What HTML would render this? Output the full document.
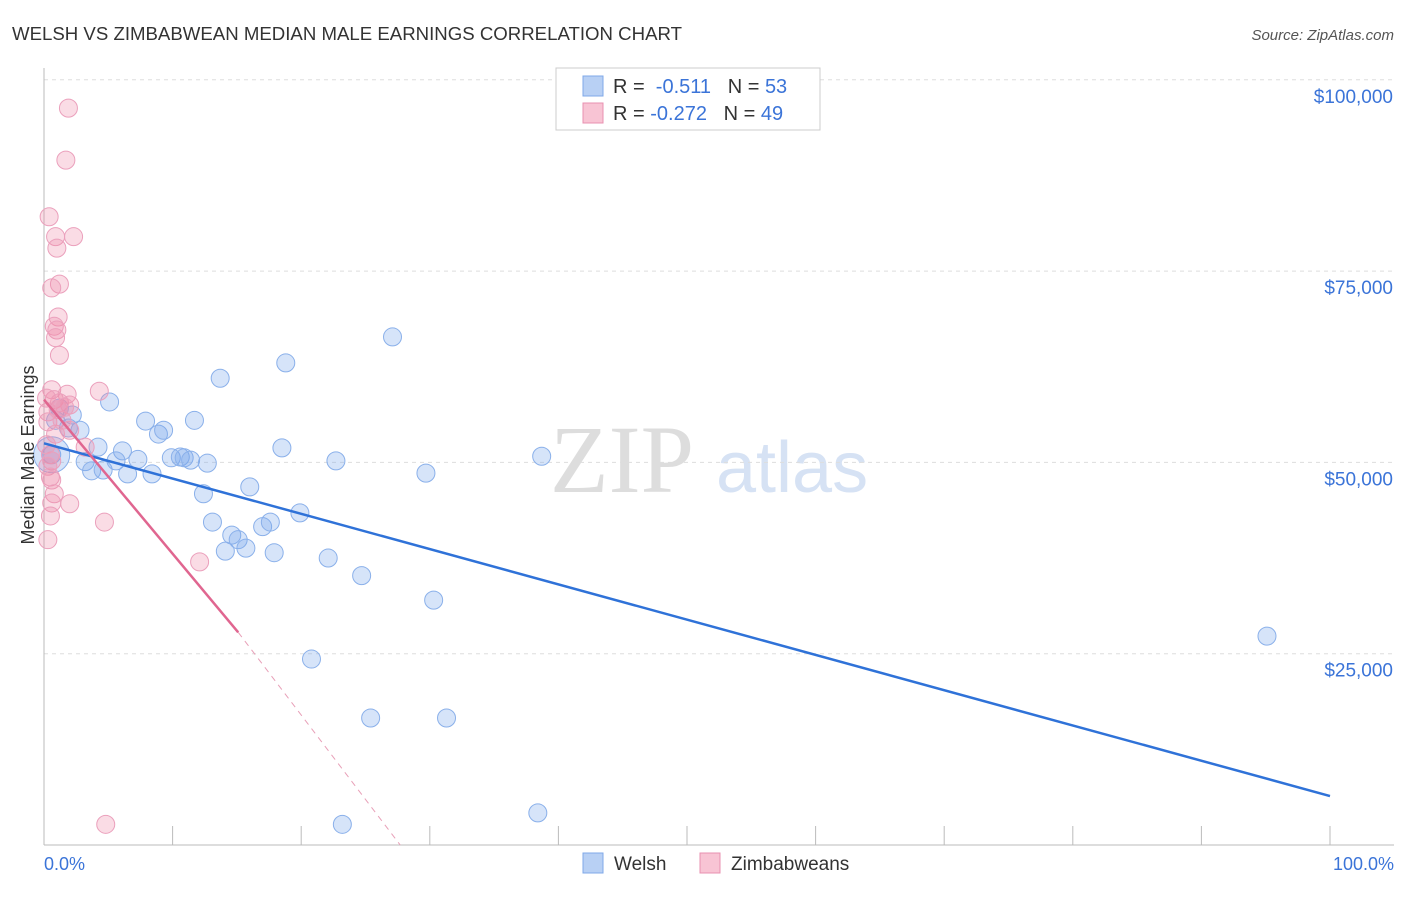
<!DOCTYPE html>
<html><head><meta charset="utf-8"><style>
body{margin:0;background:#fff;font-family:"Liberation Sans",sans-serif}
</style></head><body>
<svg width="1406" height="892" xmlns="http://www.w3.org/2000/svg" id="chart">
<text x="12" y="40" font-size="18" fill="#333" textLength="670" lengthAdjust="spacingAndGlyphs">WELSH VS ZIMBABWEAN MEDIAN MALE EARNINGS CORRELATION CHART</text>
<text x="1394" y="40" font-size="15" fill="#555" font-style="italic" text-anchor="end">Source: ZipAtlas.com</text>
<text x="550" y="492" font-size="96" fill="#ddd" font-family="Liberation Serif">ZIP</text>
<text x="716" y="492" font-size="72" fill="#d6e2f4">atlas</text>
<g id="grid"></g><g id="marks"></g>
<text transform="translate(34,455) rotate(-90)" font-size="18" fill="#333" text-anchor="middle">Median Male Earnings</text>
<text x="44" y="870" font-size="18" fill="#3b74d8">0.0%</text>
<text x="1394" y="870" font-size="18" fill="#3b74d8" text-anchor="end">100.0%</text>
<g>
<rect x="556" y="68" width="264" height="62" fill="#fff" stroke="#ccc"/>
<rect x="583" y="76" width="20" height="20" fill="#b8d0f4" stroke="#7fa8e8"/>
<rect x="583" y="103" width="20" height="20" fill="#f8c4d4" stroke="#e890b0"/>
<text x="613" y="93" font-size="20" fill="#333">R = <tspan fill="#3b74d8">&#160;-0.511</tspan>&#160;&#160;&#160;N = <tspan fill="#3b74d8">53</tspan></text>
<text x="613" y="120" font-size="20" fill="#333">R = <tspan fill="#3b74d8">-0.272</tspan>&#160;&#160;&#160;N = <tspan fill="#3b74d8">49</tspan></text>
</g>
<g>
<rect x="583" y="853" width="20" height="20" fill="#b8d0f4" stroke="#7fa8e8"/>
<text x="614" y="870" font-size="19" fill="#333">Welsh</text>
<rect x="700" y="853" width="20" height="20" fill="#f8c4d4" stroke="#e890b0"/>
<text x="731" y="870" font-size="19" fill="#333">Zimbabweans</text>
</g>
</svg>
<script>
const yTicks=[25000,50000,75000,100000];
const yTickLabels=["$25,000","$50,000","$75,000","$100,000"];
const xTicks=[0,10,20,30,40,50,60,70,80,90,100];
const welshX=[5.1,2.2,2.8,4.2,3.2,3.7,4.6,6.1,5.6,6.5,7.3,7.9,8.9,9.3,8.4,9.9,10.6,10.9,11.4,11.7,12.7,13.7,12.4,13.1,14.1,14.6,15.1,15.7,16.0,17.0,17.6,17.9,18.8,18.5,19.9,20.8,22.1,22.7,24.7,23.2,25.4,27.1,29.7,30.3,31.3,38.7,38.4,95.1,0.6,1.2,1.9,0.9];
const welshY=[57900,56200,54200,52000,50100,48900,49000,51500,50200,48500,50400,55400,53700,54200,48500,50600,50700,50600,50300,55500,49900,61000,45900,42200,38400,40500,39900,38800,46800,41600,42200,38200,63000,51900,43400,24300,37500,50200,35200,2700,16600,66400,48600,32000,16600,50800,4200,27300,51000,57100,54500,55500];
const zimX=[1.9,1.7,0.4,0.9,2.3,1.0,1.2,0.6,1.1,0.8,1.0,0.9,1.2,4.3,0.6,1.8,0.8,1.2,2.0,0.3,0.3,2.0,0.9,3.2,0.5,0.6,0.3,0.5,0.6,0.8,0.6,2.0,0.5,4.7,0.3,12.1,4.8,0.2,1.1,1.4,0.2,1.6];
const zimY=[96300,89500,82100,79500,79500,78000,73300,72800,69000,67800,67300,66300,64000,59300,59500,58900,58200,57800,57500,56600,55300,54200,53700,52000,51000,50200,49500,48100,47700,45900,44700,44600,43000,42200,39900,37000,2700,52300,56900,55500,58400,57200];
const welshLine=[0,52500,100,6400];
const zimLine=[0,58200,15.1,27800,27.7,0];
const X=v=>44+v*12.86, Y=v=>845-v*191.3/25000;
const NS="http://www.w3.org/2000/svg";
const g=document.getElementById('grid'), m=document.getElementById('marks');
function mk(p,tag,a){const e=document.createElementNS(NS,tag);for(const k in a)e.setAttribute(k,a[k]);p.appendChild(e);return e;}
yTicks.forEach((t,i)=>{
 const l=mk(g,'line',{x1:44,x2:1394,y1:Y(t),y2:Y(t),stroke:'#ddd','stroke-dasharray':'4,4'});
 
 
 const tx=mk(g,'text',{x:1393,y:Y(t)+23,'font-size':19,fill:'#3b74d8','text-anchor':'end'});tx.textContent=yTickLabels[i];
 
 
});
mk(g,'line',{x1:44,x2:44,y1:68,y2:845,stroke:'#bbb'});
mk(g,'line',{x1:44,x2:1394,y1:845,y2:845,stroke:'#bbb'});
xTicks.forEach(t=>{const l=mk(g,'line',{x1:X(t),x2:X(t),y1:826,y2:845,stroke:'#bbb'});
 
 });
welshX.forEach((x,i)=>{const c=mk(m,'circle',{cx:X(x),cy:Y(welshY[i]),r:9,fill:'rgba(120,165,235,0.3)',stroke:'#8ab0ea','stroke-width':1});
 
 });
mk(m,'circle',{cx:X(0.6),cy:Y(51000),r:18,fill:'rgba(120,165,235,0.3)',stroke:'#8ab0ea'});
zimX.forEach((x,i)=>{const c=mk(m,'circle',{cx:X(x),cy:Y(zimY[i]),r:9,fill:'rgba(240,140,170,0.3)',stroke:'#eba0bc','stroke-width':1});
 
 });
const bl=mk(m,'line',{x1:X(welshLine[0]),y1:Y(welshLine[1]),x2:X(welshLine[2]),y2:Y(welshLine[3]),stroke:'#2f72d8','stroke-width':2.5});


const pl=mk(m,'line',{x1:X(zimLine[0]),y1:Y(zimLine[1]),x2:X(zimLine[2]),y2:Y(zimLine[3]),stroke:'#e06690','stroke-width':2.5});


const pd=mk(m,'line',{x1:X(zimLine[2]),y1:Y(zimLine[3]),x2:X(zimLine[4]),y2:Y(zimLine[5]),stroke:'#e8a0b8','stroke-width':1,'stroke-dasharray':'6,5'});


</script>
</body></html>
